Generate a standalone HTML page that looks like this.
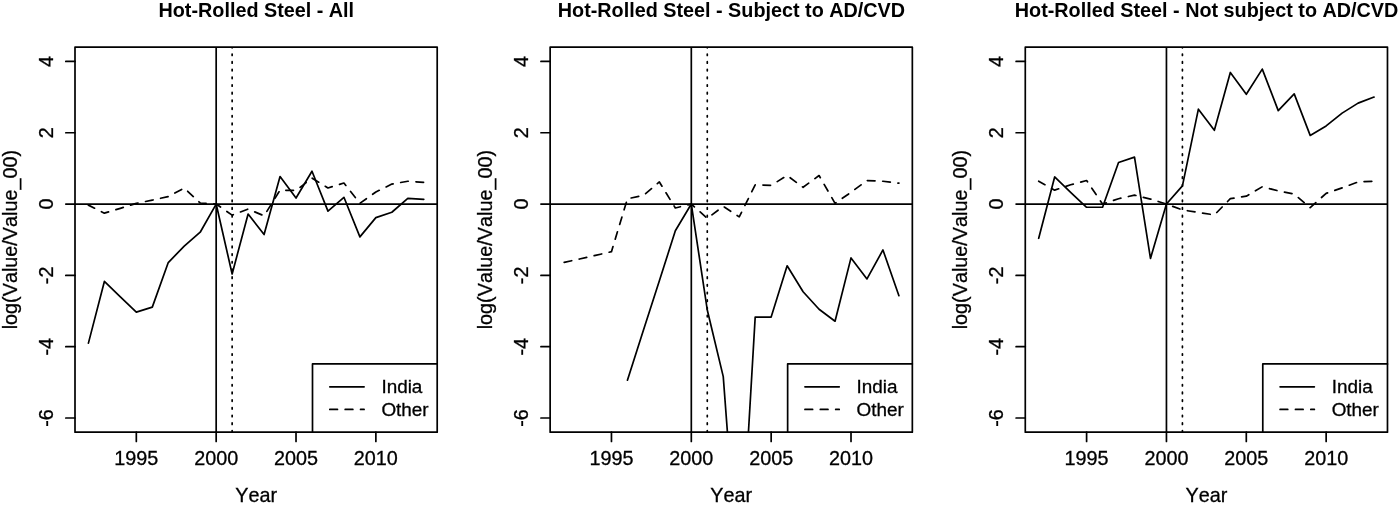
<!DOCTYPE html>
<html lang="en">
<head>
<meta charset="utf-8">
<title>Hot-Rolled Steel</title>
<style>
html,body{margin:0;padding:0;background:#fff;}
body{width:1400px;height:505px;overflow:hidden;}
svg{display:block;font-family:"Liberation Sans",Arial,Helvetica,sans-serif;fill:#000;font-kerning:none;}
.t{font-weight:bold;font-size:19.8px;text-anchor:middle;}
.a{font-size:19.8px;text-anchor:middle;stroke:#000;stroke-width:0.3px;}
.l{font-size:18.9px;text-anchor:start;stroke:#000;stroke-width:0.3px;}
.s{fill:none;stroke:#000;stroke-width:1.7;stroke-linecap:round;stroke-linejoin:round;}
.b{fill:none;stroke:#000;stroke-width:1.7;stroke-linecap:round;stroke-linejoin:round;}
</style>
</head>
<body>
<svg width="1400" height="505" viewBox="0 0 1400 505">
<rect x="0" y="0" width="1400" height="505" fill="#fff"/>
<defs><clipPath id="c0"><rect x="75" y="47.1" width="362.2" height="385.1"/></clipPath></defs>

<g transform="translate(0,0)">
<text class="t" x="256.3" y="17.2">Hot-Rolled Steel - All</text>
<g clip-path="url(#c0)">
<polyline class="s" points="88.41,343.13 104.38,281.44 120.35,296.78 136.32,312.11 152.29,307.12 168.26,262.54 184.23,246.14 200.2,232.23 216.17,204.06 232.14,273.95 248.11,214.04 264.08,234.55 280.05,176.6 296.02,198 311.99,171.25 327.96,211.19 343.93,197.28 359.9,236.87 375.87,217.61 391.84,212.26 407.81,198.46 423.78,199.42"/>
<polyline class="s" stroke-dasharray="7.686 7.686" stroke-dashoffset="0.8" points="88.41,205.13 104.38,213.15 120.35,208.34 136.32,203.35 152.29,200.14 168.26,196.57 184.23,188.01 200.2,202.99 216.17,204.06 232.14,215.11 248.11,209.05 264.08,215.83 280.05,190.15 296.02,190.51 311.99,178.03 327.96,188.01 343.93,183.02 359.9,203.35 375.87,191.94 391.84,184.09 407.81,181.24 423.78,182.31"/>
<line class="s" x1="70" y1="204.06" x2="442.2" y2="204.06"/>
<line class="s" x1="216.17" y1="42.1" x2="216.17" y2="437.2"/>
<line class="s" stroke-dasharray="1.5 6.186" x1="232.14" y1="46.31" x2="232.14" y2="440.2"/>
</g>
<rect x="312.5" y="363.95" width="124.7" height="68.25" fill="#fff"/>
<polyline class="b" points="312.5,432.2 312.5,363.95 437.2,363.95"/>
<line class="s" x1="329.8" y1="386.8" x2="364.1" y2="386.8"/>
<line class="s" stroke-dasharray="7.686 7.686" x1="329.8" y1="409.45" x2="364.1" y2="409.45"/>
<text class="l" x="381.4" y="393.4">India</text>
<text class="l" x="381.4" y="416.3">Other</text>
<rect class="b" x="75" y="47.1" width="362.2" height="385.1"/>
<line class="b" x1="136.32" y1="432.2" x2="136.32" y2="441.4"/>
<text class="a" x="136.32" y="465.2">1995</text>
<line class="b" x1="216.17" y1="432.2" x2="216.17" y2="441.4"/>
<text class="a" x="216.17" y="465.2">2000</text>
<line class="b" x1="296.02" y1="432.2" x2="296.02" y2="441.4"/>
<text class="a" x="296.02" y="465.2">2005</text>
<line class="b" x1="375.87" y1="432.2" x2="375.87" y2="441.4"/>
<text class="a" x="375.87" y="465.2">2010</text>
<text class="a" x="256.1" y="501.5">Year</text>
<line class="b" x1="65.8" y1="61.42" x2="75" y2="61.42"/>
<text class="a" transform="translate(52.9,61.42) rotate(-90)">4</text>
<line class="b" x1="65.8" y1="132.74" x2="75" y2="132.74"/>
<text class="a" transform="translate(52.9,132.74) rotate(-90)">2</text>
<line class="b" x1="65.8" y1="204.06" x2="75" y2="204.06"/>
<text class="a" transform="translate(52.9,204.06) rotate(-90)">0</text>
<line class="b" x1="65.8" y1="275.38" x2="75" y2="275.38"/>
<text class="a" transform="translate(52.9,275.38) rotate(-90)">-2</text>
<line class="b" x1="65.8" y1="346.7" x2="75" y2="346.7"/>
<text class="a" transform="translate(52.9,346.7) rotate(-90)">-4</text>
<line class="b" x1="65.8" y1="418.02" x2="75" y2="418.02"/>
<text class="a" transform="translate(52.9,418.02) rotate(-90)">-6</text>
<text class="a" transform="translate(17.1,239.65) rotate(-90)">log(Value/Value_00)</text>
</g>
<g transform="translate(475.14,0)">
<text class="t" x="256.3" y="17.2">Hot-Rolled Steel - Subject to AD/CVD</text>
<g clip-path="url(#c0)">
<polyline class="s" points="152.29,380.22 168.26,330.3 184.23,280.73 200.2,230.81 216.17,204.06 232.14,309.97 248.11,376.65 264.08,589.19 280.05,317.1 296.02,317.1 311.99,265.75 327.96,291.78 343.93,309.26 359.9,321.2 375.87,257.91 391.84,278.95 407.81,249.95 423.78,295.71"/>
<polyline class="s" stroke-dasharray="7.686 7.686" stroke-dashoffset="-0.65" points="88.41,262.54 104.38,258.98 120.35,255.41 136.32,251.67 152.29,198.71 168.26,195.5 184.23,181.95 200.2,207.98 216.17,204.06 232.14,218.32 248.11,206.38 264.08,216.9 280.05,184.8 296.02,185.34 311.99,175.53 327.96,187.3 343.93,175.53 359.9,203.35 375.87,192.29 391.84,180.52 407.81,181.24 423.78,183.2"/>
<line class="s" x1="70" y1="204.06" x2="442.2" y2="204.06"/>
<line class="s" x1="216.17" y1="42.1" x2="216.17" y2="437.2"/>
<line class="s" stroke-dasharray="1.5 6.186" x1="232.14" y1="46.31" x2="232.14" y2="440.2"/>
</g>
<rect x="312.5" y="363.95" width="124.7" height="68.25" fill="#fff"/>
<polyline class="b" points="312.5,432.2 312.5,363.95 437.2,363.95"/>
<line class="s" x1="329.8" y1="386.8" x2="364.1" y2="386.8"/>
<line class="s" stroke-dasharray="7.686 7.686" x1="329.8" y1="409.45" x2="364.1" y2="409.45"/>
<text class="l" x="381.4" y="393.4">India</text>
<text class="l" x="381.4" y="416.3">Other</text>
<rect class="b" x="75" y="47.1" width="362.2" height="385.1"/>
<line class="b" x1="136.32" y1="432.2" x2="136.32" y2="441.4"/>
<text class="a" x="136.32" y="465.2">1995</text>
<line class="b" x1="216.17" y1="432.2" x2="216.17" y2="441.4"/>
<text class="a" x="216.17" y="465.2">2000</text>
<line class="b" x1="296.02" y1="432.2" x2="296.02" y2="441.4"/>
<text class="a" x="296.02" y="465.2">2005</text>
<line class="b" x1="375.87" y1="432.2" x2="375.87" y2="441.4"/>
<text class="a" x="375.87" y="465.2">2010</text>
<text class="a" x="256.1" y="501.5">Year</text>
<line class="b" x1="65.8" y1="61.42" x2="75" y2="61.42"/>
<text class="a" transform="translate(52.9,61.42) rotate(-90)">4</text>
<line class="b" x1="65.8" y1="132.74" x2="75" y2="132.74"/>
<text class="a" transform="translate(52.9,132.74) rotate(-90)">2</text>
<line class="b" x1="65.8" y1="204.06" x2="75" y2="204.06"/>
<text class="a" transform="translate(52.9,204.06) rotate(-90)">0</text>
<line class="b" x1="65.8" y1="275.38" x2="75" y2="275.38"/>
<text class="a" transform="translate(52.9,275.38) rotate(-90)">-2</text>
<line class="b" x1="65.8" y1="346.7" x2="75" y2="346.7"/>
<text class="a" transform="translate(52.9,346.7) rotate(-90)">-4</text>
<line class="b" x1="65.8" y1="418.02" x2="75" y2="418.02"/>
<text class="a" transform="translate(52.9,418.02) rotate(-90)">-6</text>
<text class="a" transform="translate(17.1,239.65) rotate(-90)">log(Value/Value_00)</text>
</g>
<g transform="translate(950.28,0)">
<text class="t" x="256.3" y="17.2">Hot-Rolled Steel - Not subject to AD/CVD</text>
<g clip-path="url(#c0)">
<polyline class="s" points="88.41,238.29 104.38,176.96 120.35,192.29 136.32,207.27 152.29,207.27 168.26,162.52 184.23,157.17 200.2,258.44 216.17,204.06 232.14,185.87 248.11,109.2 264.08,130.24 280.05,72.47 296.02,94.23 311.99,69.09 327.96,110.63 343.93,93.87 359.9,135.41 375.87,125.96 391.84,113.13 407.81,103.14 423.78,97.08"/>
<polyline class="s" stroke-dasharray="7.686 7.686" stroke-dashoffset="0.55" points="88.41,181.24 104.38,190.15 120.35,184.8 136.32,180.52 152.29,204.06 168.26,198.71 184.23,195.15 200.2,199.07 216.17,204.06 232.14,209.94 248.11,212.44 264.08,214.94 280.05,198.71 296.02,196.21 311.99,186.76 327.96,190.87 343.93,194.08 359.9,207.63 375.87,193.36 391.84,187.83 407.81,181.95 423.78,181.24"/>
<line class="s" x1="70" y1="204.06" x2="442.2" y2="204.06"/>
<line class="s" x1="216.17" y1="42.1" x2="216.17" y2="437.2"/>
<line class="s" stroke-dasharray="1.5 6.186" x1="232.14" y1="46.31" x2="232.14" y2="440.2"/>
</g>
<rect x="312.5" y="363.95" width="124.7" height="68.25" fill="#fff"/>
<polyline class="b" points="312.5,432.2 312.5,363.95 437.2,363.95"/>
<line class="s" x1="329.8" y1="386.8" x2="364.1" y2="386.8"/>
<line class="s" stroke-dasharray="7.686 7.686" x1="329.8" y1="409.45" x2="364.1" y2="409.45"/>
<text class="l" x="381.4" y="393.4">India</text>
<text class="l" x="381.4" y="416.3">Other</text>
<rect class="b" x="75" y="47.1" width="362.2" height="385.1"/>
<line class="b" x1="136.32" y1="432.2" x2="136.32" y2="441.4"/>
<text class="a" x="136.32" y="465.2">1995</text>
<line class="b" x1="216.17" y1="432.2" x2="216.17" y2="441.4"/>
<text class="a" x="216.17" y="465.2">2000</text>
<line class="b" x1="296.02" y1="432.2" x2="296.02" y2="441.4"/>
<text class="a" x="296.02" y="465.2">2005</text>
<line class="b" x1="375.87" y1="432.2" x2="375.87" y2="441.4"/>
<text class="a" x="375.87" y="465.2">2010</text>
<text class="a" x="256.1" y="501.5">Year</text>
<line class="b" x1="65.8" y1="61.42" x2="75" y2="61.42"/>
<text class="a" transform="translate(52.9,61.42) rotate(-90)">4</text>
<line class="b" x1="65.8" y1="132.74" x2="75" y2="132.74"/>
<text class="a" transform="translate(52.9,132.74) rotate(-90)">2</text>
<line class="b" x1="65.8" y1="204.06" x2="75" y2="204.06"/>
<text class="a" transform="translate(52.9,204.06) rotate(-90)">0</text>
<line class="b" x1="65.8" y1="275.38" x2="75" y2="275.38"/>
<text class="a" transform="translate(52.9,275.38) rotate(-90)">-2</text>
<line class="b" x1="65.8" y1="346.7" x2="75" y2="346.7"/>
<text class="a" transform="translate(52.9,346.7) rotate(-90)">-4</text>
<line class="b" x1="65.8" y1="418.02" x2="75" y2="418.02"/>
<text class="a" transform="translate(52.9,418.02) rotate(-90)">-6</text>
<text class="a" transform="translate(17.1,239.65) rotate(-90)">log(Value/Value_00)</text>
</g>
</svg>
</body>
</html>
